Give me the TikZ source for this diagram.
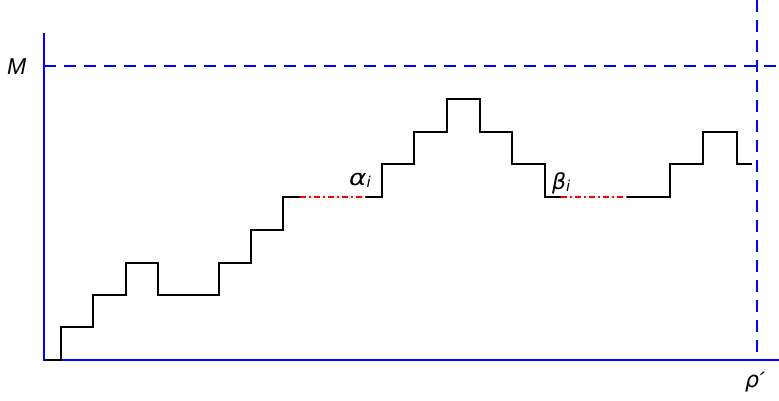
\documentclass[tikz,border=0pt]{standalone}
\usepackage{fontspec}
\setmainfont{Liberation Sans}
\newfontfamily\greekfont{DejaVu Sans}
\begin{document}
\begin{tikzpicture}[x=1pt,y=-1pt,
  axisline/.style={blue,line width=2pt},
  guide/.style={blue,line width=2pt,dash pattern=on 12pt off 8pt},
  pathline/.style={black,line width=2.2pt},
  gap/.style={red,line width=2.2pt,dash pattern=on 6pt off 3pt on 2pt off 3pt},
  lbl/.style={inner sep=0pt,anchor=base west,font=\fontsize{23}{23}\selectfont\itshape},
  glbl/.style={inner sep=0pt,anchor=base west,font=\fontsize{22}{22}\selectfont\greekfont\itshape}]
\useasboundingbox (0,0) rectangle (779,401);
% axes
\coordinate (o) at (44,360);
\coordinate (ytop) at (44,33);
\coordinate (xend) at (779,360);
\coordinate (mL) at (44,66);
\coordinate (mR) at (779,66);
\coordinate (rT) at (757,0);
\coordinate (rB) at (757,360);
\draw[guide] (mL) -- (mR);
\draw[guide] (rT) -- (rB);
\draw[axisline] (ytop) -- (o) -- (xend);
% path
\draw[pathline] (44,360)--(61,360)--(61,327)--(93,327)--(93,295)--(126,295)--(126,263)--(158,263)--(158,295)--(219,295)--(219,263)--(251,263)--(251,230)--(283,230)--(283,197)--(300,197);
\draw[gap] (300,197)--(366,197);
\draw[pathline] (366,197)--(382,197)--(382,164)--(414,164)--(414,132)--(447,132)--(447,99)--(480,99)--(480,132)--(512,132)--(512,164)--(545,164)--(545,197)--(561,197);
\draw[gap] (561,197)--(627,197);
\draw[pathline] (627,197)--(670,197)--(670,164)--(703,164)--(703,132)--(737,132)--(737,164)--(752,164);
% labels
\node[lbl] (M) at (7,75) {M};
\node[glbl] (alpha) at (349,185) {\scalebox{1.2}[1]{α}\raisebox{-0.12em}{\fontsize{15}{15}\selectfont i}};
\node[glbl] (beta) at (552,189) {β\raisebox{-0.12em}{\fontsize{15}{15}\selectfont i}};
\node[glbl] (rho) at (745,387) {ρ\hspace{-0.05em}\rotatebox{-8}{′}};
\end{tikzpicture}
\end{document}
